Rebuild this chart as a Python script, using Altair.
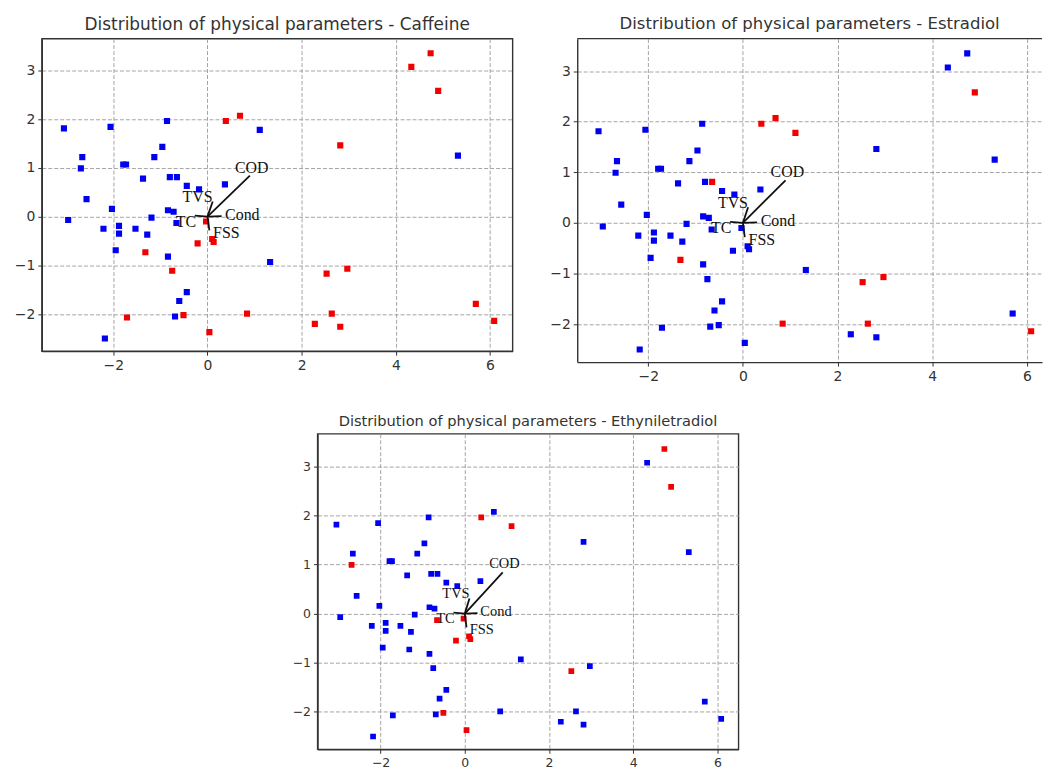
import altair as alt
import pandas as pd

# ---- data ----
pc1 = [4.74, 4.33, 4.90, 0.39, 0.69, 2.82, -0.03, -0.21, 0.10, 0.13,
       -1.32, -0.75, 2.53, 2.97, -1.71, -0.51, 0.84, 0.04, 2.28, 2.64,
       2.82, 5.70, 6.09, -3.05, -2.06, -0.86, 1.11, -0.96, -1.13, -2.66,
       -2.69, -1.79, -1.73, -1.37, -0.80, -0.65, -0.44, -0.18, 0.37, -2.57,
       -2.03, -0.84, -0.72, -1.19, -2.96, -2.21, -1.88, -1.88, -1.53, -1.28,
       -0.66, -1.95, -0.84, 1.33, -0.44, -0.60, -0.69, -2.18, 5.32]
pc2 = [3.35, 3.07, 2.58, 1.96, 2.07, 1.46, -0.10, -0.55, -0.46, -0.52,
       -0.73, -1.11, -1.17, -1.07, -2.07, -2.02, -1.99, -2.37, -2.20, -1.99,
       -2.26, -1.79, -2.14, 1.81, 1.84, 1.96, 1.78, 1.43, 1.22, 1.22,
       0.99, 1.07, 1.07, 0.78, 0.81, 0.81, 0.63, 0.56, 0.66, 0.36,
       0.16, 0.13, 0.10, -0.02, -0.07, -0.25, -0.19, -0.35, -0.25, -0.37,
       -0.13, -0.69, -0.82, -0.93, -1.55, -1.73, -2.05, -2.50, 1.25]

# 1 = red, 0 = blue, one entry per point above
caffeine_cls = [1, 1, 1, 1, 1, 1, 1, 1, 1, 1,
                1, 1, 1, 1, 1, 1, 1, 1, 1, 1,
                1, 1, 1, 0, 0, 0, 0, 0, 0, 0,
                0, 0, 0, 0, 0, 0, 0, 0, 0, 0,
                0, 0, 0, 0, 0, 0, 0, 0, 0, 0,
                0, 0, 0, 0, 0, 0, 0, 0, 0]
estradiol_cls = [0, 0, 1, 1, 1, 0, 0, 0, 0, 0,
                 1, 0, 1, 1, 0, 0, 1, 0, 0, 1,
                 0, 0, 1, 0, 0, 0, 1, 0, 0, 0,
                 0, 0, 0, 0, 0, 1, 0, 0, 0, 0,
                 0, 0, 0, 0, 0, 0, 0, 0, 0, 0,
                 0, 0, 0, 0, 0, 0, 0, 0, 0]
ethynil_cls = [1, 0, 1, 1, 0, 0, 1, 1, 1, 1,
               0, 0, 1, 0, 0, 1, 0, 1, 0, 0,
               0, 0, 0, 0, 0, 0, 1, 0, 0, 0,
               1, 0, 0, 0, 0, 0, 0, 0, 0, 0,
               0, 0, 0, 0, 0, 0, 0, 0, 0, 0,
               1, 0, 0, 0, 0, 0, 0, 0, 0]

var_names = ["COD", "TVS", "Cond", "TC", "FSS"]
load_x = [0.90, 0.11, 0.30, -0.27, 0.04]
load_y = [0.84, 0.31, 0.01, 0.02, -0.28]
label_x = [0.94, -0.21, 0.74, -0.46, 0.40]
label_y = [1.00, 0.40, 0.03, -0.11, -0.34]

x_ticks = [-2, 0, 2, 4, 6]
y_ticks = [-2, -1, 0, 1, 2, 3]

FRAME = "#333333"


def panel(title, cls, w, h, xdom, ydom, tsize, lsize, psize, tfont,
          yext, xext, right_border=True):
    pts = pd.DataFrame({"pc1": pc1, "pc2": pc2,
                        "grp": ["red" if c else "blue" for c in cls]})
    arrows = pd.DataFrame({"x0": [0.0] * len(var_names), "y0": [0.0] * len(var_names),
                           "x1": load_x, "y1": load_y})
    labels = pd.DataFrame({"name": var_names, "lx": label_x, "ly": label_y})

    xs = alt.Scale(domain=xdom, nice=False, zero=False)
    ys = alt.Scale(domain=ydom, nice=False, zero=False)
    xax = alt.Axis(values=x_ticks, format="d", labelFontSize=lsize,
                   minExtent=xext, maxExtent=xext)
    yax = alt.Axis(values=y_ticks, format="d", labelFontSize=lsize,
                   minExtent=yext, maxExtent=yext)

    base_pts = alt.Chart(pts).mark_square(size=psize, opacity=1, clip=True).encode(
        x=alt.X("pc1:Q", scale=xs, axis=xax, title=None),
        y=alt.Y("pc2:Q", scale=ys, axis=yax, title=None),
        color=alt.Color("grp:N", scale=alt.Scale(domain=["blue", "red"],
                                                 range=["#0000f0", "#f00000"]),
                        legend=None),
    )
    arr = alt.Chart(arrows).mark_rule(color="#111111", strokeWidth=1.8).encode(
        x="x0:Q", y="y0:Q", x2="x1:Q", y2="y1:Q")
    txt = alt.Chart(labels).mark_text(font="Liberation Serif", fontSize=tfont,
                                      color="#111111", align="center",
                                      baseline="middle").encode(
        x="lx:Q", y="ly:Q", text="name:N")
    layers = [base_pts, arr, txt]
    props = dict(width=w, height=h,
                 title=alt.TitleParams(title, fontSize=tsize, font="DejaVu Sans",
                                       fontWeight="normal", color="#333333", offset=5))
    if not right_border:
        top = alt.Chart(pd.DataFrame({"v": [0]})).mark_rule(
            color=FRAME, strokeWidth=1.4).encode(
            x=alt.value(0), x2=alt.value(w), y=alt.value(0))
        layers.append(top)
        props["view"] = alt.ViewBackground(stroke="transparent")
    return alt.layer(*layers).properties(**props)


p1 = panel("Distribution of physical parameters - Caffeine", caffeine_cls,
           473, 314, [-3.52, 6.48], [-2.76, 3.65], 17, 14, 38, 16, 41, 24)
p2 = panel("Distribution of physical parameters - Estradiol", estradiol_cls,
           467, 325, [-3.50, 6.32], [-2.75, 3.64], 16.6, 14, 38, 16, 41, 24,
           right_border=False)
p3 = panel("Distribution of physical parameters - Ethyniletradiol", ethynil_cls,
           423, 317, [-3.50, 6.50], [-2.76, 3.66], 14.7, 12.5, 33, 14.5, 36, 18)

spacer = alt.Chart(pd.DataFrame({"v": [0]})).mark_point(opacity=0).encode(
    x=alt.value(0), y=alt.value(0)
).properties(width=217, height=1, view=alt.ViewBackground(stroke="transparent"))

top_row = alt.hconcat(p1, p2, spacing=22)
bottom_row = alt.hconcat(spacer, p3, spacing=22)
chart = alt.vconcat(top_row, bottom_row, spacing=26).properties(
    padding={"left": 0, "top": 13, "right": 0, "bottom": 0}
).configure_view(
    stroke=FRAME, strokeWidth=1.4
).configure_axis(
    grid=True, gridColor="#9a9a9a", gridDash=[4, 2], gridWidth=0.9,
    domain=True, domainColor=FRAME, domainWidth=1.4,
    ticks=True, tickColor=FRAME, tickSize=4, tickWidth=1,
    labelColor="#333333", labelFont="DejaVu Sans", labelPadding=3
)

chart.save("out.html", embed_options={"renderer": "svg", "actions": False})
